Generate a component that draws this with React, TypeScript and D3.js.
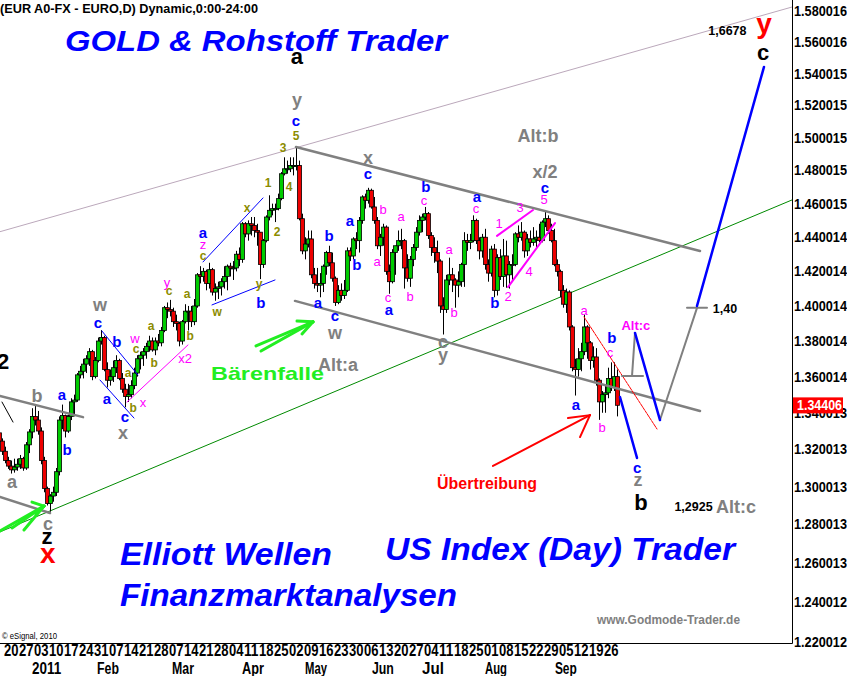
import React from "react";
import * as d3 from "d3";

// ---------- DATA ----------
// EUR/USD daily candles [open, high, low, close], first row = Thu 16 Dec 2010 (day -2), Mon 20 Dec 2010 = day 0
const firstDay = -2;
const eurusdOHLC: [number, number, number, number][] = [
  [1.3290, 1.3310, 1.3220, 1.3245], [1.3245, 1.3260, 1.3170, 1.3190],
  // Dec 20
  [1.3190, 1.3215, 1.3125, 1.3140], [1.3140, 1.3160, 1.3095, 1.3110], [1.3110, 1.3140, 1.3070, 1.3090], [1.3090, 1.3150, 1.3075, 1.3105], [1.3105, 1.3150, 1.3085, 1.3120],
  // Dec 27
  [1.3120, 1.3170, 1.3095, 1.3150], [1.3150, 1.3160, 1.3085, 1.3100], [1.3100, 1.3240, 1.3090, 1.3225], [1.3225, 1.3310, 1.3180, 1.3295], [1.3295, 1.3425, 1.3260, 1.3380],
  // Jan 3
  [1.3380, 1.3445, 1.3330, 1.3360], [1.3360, 1.3410, 1.3280, 1.3300], [1.3300, 1.3320, 1.3120, 1.3140], [1.3140, 1.3160, 1.2970, 1.2990], [1.2990, 1.3000, 1.2900, 1.2910],
  // Jan 10
  [1.2910, 1.2960, 1.2867, 1.2950], [1.2950, 1.3000, 1.2920, 1.2970], [1.2970, 1.3100, 1.2950, 1.3080], [1.3080, 1.3380, 1.3060, 1.3360], [1.3360, 1.3445, 1.3310, 1.3385],
  // Jan 17
  [1.3385, 1.3390, 1.3265, 1.3300], [1.3300, 1.3390, 1.3290, 1.3380], [1.3380, 1.3480, 1.3360, 1.3460], [1.3460, 1.3500, 1.3380, 1.3470], [1.3470, 1.3620, 1.3460, 1.3610],
  // Jan 24
  [1.3610, 1.3660, 1.3590, 1.3630], [1.3630, 1.3700, 1.3590, 1.3670], [1.3670, 1.3720, 1.3620, 1.3700], [1.3700, 1.3760, 1.3660, 1.3740], [1.3740, 1.3750, 1.3580, 1.3600],
  // Jan 31
  [1.3600, 1.3710, 1.3590, 1.3690], [1.3690, 1.3820, 1.3680, 1.3800], [1.3800, 1.3862, 1.3780, 1.3820], [1.3820, 1.3830, 1.3630, 1.3640], [1.3640, 1.3680, 1.3540, 1.3580],
  // Feb 7
  [1.3580, 1.3640, 1.3550, 1.3600], [1.3600, 1.3690, 1.3570, 1.3650], [1.3650, 1.3720, 1.3620, 1.3690], [1.3690, 1.3700, 1.3580, 1.3590], [1.3590, 1.3620, 1.3510, 1.3530],
  // Feb 14
  [1.3530, 1.3560, 1.3430, 1.3490], [1.3490, 1.3560, 1.3460, 1.3500], [1.3500, 1.3580, 1.3480, 1.3550], [1.3550, 1.3650, 1.3530, 1.3620], [1.3620, 1.3720, 1.3600, 1.3700],
  // Feb 21
  [1.3700, 1.3740, 1.3640, 1.3720], [1.3720, 1.3760, 1.3660, 1.3740], [1.3740, 1.3790, 1.3700, 1.3770], [1.3770, 1.3830, 1.3740, 1.3800], [1.3800, 1.3820, 1.3740, 1.3750],
  // Feb 28
  [1.3750, 1.3820, 1.3720, 1.3800], [1.3800, 1.3840, 1.3770, 1.3790], [1.3790, 1.3880, 1.3770, 1.3860], [1.3860, 1.4000, 1.3850, 1.3990], [1.3990, 1.4020, 1.3930, 1.3980],
  // Mar 7
  [1.3980, 1.4035, 1.3940, 1.3970], [1.3970, 1.3990, 1.3880, 1.3910], [1.3910, 1.3950, 1.3860, 1.3900], [1.3900, 1.3910, 1.3770, 1.3800], [1.3800, 1.3920, 1.3780, 1.3910],
  // Mar 14
  [1.3910, 1.4010, 1.3900, 1.3970], [1.3970, 1.4000, 1.3860, 1.3970], [1.3970, 1.4000, 1.3880, 1.3910], [1.3910, 1.4040, 1.3890, 1.4000], [1.4000, 1.4190, 1.3990, 1.4180],
  // Mar 21
  [1.4180, 1.4230, 1.4130, 1.4170], [1.4170, 1.4220, 1.4140, 1.4200], [1.4200, 1.4210, 1.4090, 1.4130], [1.4130, 1.4250, 1.4100, 1.4210], [1.4210, 1.4220, 1.4060, 1.4080],
  // Mar 28
  [1.4080, 1.4130, 1.4030, 1.4100], [1.4100, 1.4140, 1.4040, 1.4110], [1.4110, 1.4160, 1.4060, 1.4140], [1.4140, 1.4230, 1.4100, 1.4170], [1.4170, 1.4240, 1.4090, 1.4230],
  // Apr 4
  [1.4230, 1.4250, 1.4170, 1.4220], [1.4220, 1.4260, 1.4150, 1.4220], [1.4220, 1.4320, 1.4200, 1.4300], [1.4300, 1.4340, 1.4230, 1.4270], [1.4270, 1.4490, 1.4250, 1.4480],
  // Apr 11
  [1.4480, 1.4490, 1.4400, 1.4420], [1.4420, 1.4500, 1.4380, 1.4480], [1.4480, 1.4520, 1.4410, 1.4470], [1.4470, 1.4520, 1.4400, 1.4440], [1.4440, 1.4480, 1.4350, 1.4430],
  // Apr 18
  [1.4430, 1.4430, 1.4155, 1.4240], [1.4240, 1.4390, 1.4220, 1.4380], [1.4380, 1.4530, 1.4370, 1.4520], [1.4520, 1.4650, 1.4500, 1.4560], [1.4560, 1.4600, 1.4530, 1.4570],
  // Apr 25
  [1.4570, 1.4600, 1.4490, 1.4570], [1.4570, 1.4660, 1.4560, 1.4630], [1.4630, 1.4790, 1.4620, 1.4780], [1.4780, 1.4880, 1.4770, 1.4810], [1.4810, 1.4860, 1.4780, 1.4810],
  // May 2
  [1.4810, 1.4880, 1.4790, 1.4830], [1.4830, 1.4880, 1.4770, 1.4830], [1.4830, 1.4940, 1.4800, 1.4830], [1.4830, 1.4860, 1.4500, 1.4510], [1.4510, 1.4540, 1.4300, 1.4320],
  // May 9
  [1.4320, 1.4400, 1.4270, 1.4360], [1.4360, 1.4440, 1.4340, 1.4390], [1.4390, 1.4440, 1.4160, 1.4180], [1.4180, 1.4220, 1.4100, 1.4130], [1.4130, 1.4220, 1.4080, 1.4120],
  // May 16
  [1.4120, 1.4190, 1.4050, 1.4130], [1.4130, 1.4240, 1.4080, 1.4230], [1.4230, 1.4320, 1.4180, 1.4310], [1.4310, 1.4350, 1.4230, 1.4250], [1.4250, 1.4310, 1.4140, 1.4160],
  // May 23
  [1.4160, 1.4170, 1.4000, 1.4020], [1.4020, 1.4120, 1.4010, 1.4090], [1.4090, 1.4130, 1.4030, 1.4060], [1.4060, 1.4150, 1.4040, 1.4090], [1.4090, 1.4340, 1.4080, 1.4320],
  // May 30
  [1.4320, 1.4340, 1.4260, 1.4290], [1.4290, 1.4400, 1.4270, 1.4390], [1.4390, 1.4430, 1.4330, 1.4380], [1.4380, 1.4520, 1.4310, 1.4500], [1.4500, 1.4650, 1.4480, 1.4640],
  // Jun 6
  [1.4640, 1.4660, 1.4570, 1.4620], [1.4620, 1.4695, 1.4600, 1.4680], [1.4680, 1.4690, 1.4570, 1.4580], [1.4580, 1.4640, 1.4480, 1.4500], [1.4500, 1.4520, 1.4330, 1.4350],
  // Jun 13
  [1.4350, 1.4420, 1.4290, 1.4400], [1.4400, 1.4480, 1.4350, 1.4460], [1.4460, 1.4470, 1.4180, 1.4200], [1.4200, 1.4240, 1.4070, 1.4140], [1.4140, 1.4330, 1.4130, 1.4310],
  // Jun 20
  [1.4310, 1.4350, 1.4180, 1.4350], [1.4350, 1.4440, 1.4320, 1.4380], [1.4380, 1.4450, 1.4330, 1.4380], [1.4380, 1.4390, 1.4100, 1.4220], [1.4220, 1.4300, 1.4140, 1.4160],
  // Jun 27
  [1.4160, 1.4290, 1.4110, 1.4270], [1.4270, 1.4360, 1.4230, 1.4340], [1.4340, 1.4460, 1.4320, 1.4430], [1.4430, 1.4530, 1.4410, 1.4500], [1.4500, 1.4540, 1.4430, 1.4520],
  // Jul 4
  [1.4520, 1.4580, 1.4500, 1.4540], [1.4540, 1.4550, 1.4390, 1.4410], [1.4410, 1.4430, 1.4290, 1.4340], [1.4340, 1.4400, 1.4250, 1.4310], [1.4310, 1.4380, 1.4190, 1.4260],
  // Jul 11
  [1.4260, 1.4270, 1.3960, 1.4000], [1.4000, 1.4050, 1.3837, 1.3980], [1.3980, 1.4180, 1.3960, 1.4150], [1.4150, 1.4280, 1.4120, 1.4180], [1.4180, 1.4220, 1.4080, 1.4150],
  // Jul 18
  [1.4150, 1.4160, 1.3990, 1.4120], [1.4120, 1.4200, 1.4050, 1.4140], [1.4140, 1.4250, 1.4110, 1.4240], [1.4240, 1.4430, 1.4110, 1.4380], [1.4380, 1.4420, 1.4320, 1.4370],
  // Jul 25
  [1.4370, 1.4420, 1.4330, 1.4380], [1.4380, 1.4530, 1.4370, 1.4500], [1.4500, 1.4510, 1.4360, 1.4380], [1.4380, 1.4400, 1.4270, 1.4320], [1.4320, 1.4420, 1.4280, 1.4400],
  // Aug 1
  [1.4400, 1.4450, 1.4210, 1.4240], [1.4240, 1.4270, 1.4140, 1.4190], [1.4190, 1.4350, 1.4170, 1.4330], [1.4330, 1.4360, 1.4050, 1.4090], [1.4090, 1.4300, 1.4060, 1.4280],
  // Aug 8
  [1.4280, 1.4330, 1.4150, 1.4170], [1.4170, 1.4390, 1.4110, 1.4290], [1.4290, 1.4380, 1.4105, 1.4180], [1.4180, 1.4260, 1.4100, 1.4240], [1.4240, 1.4300, 1.4150, 1.4240],
  // Aug 15
  [1.4240, 1.4430, 1.4230, 1.4420], [1.4420, 1.4470, 1.4370, 1.4400], [1.4400, 1.4490, 1.4380, 1.4430], [1.4430, 1.4440, 1.4280, 1.4320], [1.4320, 1.4420, 1.4290, 1.4390],
  // Aug 22
  [1.4390, 1.4440, 1.4340, 1.4370], [1.4370, 1.4460, 1.4350, 1.4390], [1.4390, 1.4440, 1.4330, 1.4400], [1.4400, 1.4480, 1.4370, 1.4380], [1.4380, 1.4500, 1.4370, 1.4490],
  // Aug 29
  [1.4490, 1.4550, 1.4460, 1.4510], [1.4510, 1.4530, 1.4420, 1.4440], [1.4440, 1.4480, 1.4370, 1.4380], [1.4380, 1.4450, 1.4230, 1.4240], [1.4240, 1.4270, 1.4170, 1.4200],
  // Sep 5
  [1.4200, 1.4210, 1.4050, 1.4090], [1.4090, 1.4120, 1.3990, 1.4010], [1.4010, 1.4100, 1.3960, 1.4080], [1.4080, 1.4090, 1.3860, 1.3880], [1.3880, 1.3890, 1.3630, 1.3650],
  // Sep 12
  [1.3650, 1.3700, 1.3495, 1.3640], [1.3640, 1.3760, 1.3600, 1.3700], [1.3700, 1.3790, 1.3630, 1.3740], [1.3740, 1.3950, 1.3720, 1.3880], [1.3880, 1.3890, 1.3700, 1.3790],
  // Sep 19
  [1.3790, 1.3800, 1.3640, 1.3690], [1.3690, 1.3770, 1.3650, 1.3710], [1.3710, 1.3760, 1.3550, 1.3580], [1.3580, 1.3590, 1.3361, 1.3460], [1.3460, 1.3520, 1.3400, 1.3500],
  // Sep 26
  [1.3500, 1.3550, 1.3400, 1.3510], [1.3510, 1.3650, 1.3480, 1.3590], [1.3590, 1.3680, 1.3520, 1.3540], [1.3540, 1.3680, 1.3520, 1.3600], [1.3600, 1.3640, 1.3380, 1.3441],
];
const lastPrice = 1.34406;

// weekly axis labels: label k sits on trading day 5*k (Mondays from 20 Dec 2010)
const weekLabels = ["20","27","03","10","17","24","31","07","14","21","28","07","14","21","28","04","11","18","25","02","09","16","23","30","06","13","20","27","04","11","18","25","01","08","15","22","29","05","12","19","26"];
const monthLabels = [
  { t: "2011", d: 9 }, { t: "Feb", d: 30.7 }, { t: "Mar", d: 55.7 }, { t: "Apr", d: 79 }, { t: "May", d: 100 },
  { t: "Jun", d: 122.3 }, { t: "Jul", d: 139 }, { t: "Aug", d: 160 }, { t: "Sep", d: 183.3 },
];
const yTickLabels = ["1.580016","1.560016","1.540015","1.520015","1.500015","1.480015","1.460015","1.440014","1.420014","1.400014","1.380014","1.360014","1.340013","1.320013","1.300013","1.280013","1.260013","1.240012","1.220012"];

type Lbl = { t: string; d: number; p: number };
const blueLabels: Lbl[] = [
  { t: "c", d: 97, p: 1.5104 }, { t: "a", d: 66, p: 1.4431 }, { t: "b", d: 85.3, p: 1.4018 }, { t: "c", d: 121, p: 1.4779 },
  { t: "c", d: 180, p: 1.4694 }, { t: "b", d: 140.3, p: 1.4700 }, { t: "a", d: 157.3, p: 1.4640 }, { t: "a", d: 115, p: 1.4502 },
  { t: "b", d: 108, p: 1.4413 }, { t: "b", d: 117.3, p: 1.4238 }, { t: "a", d: 128, p: 1.3977 }, { t: "b", d: 163.3, p: 1.4018 },
  { t: "a", d: 104.3, p: 1.4018 }, { t: "c", d: 110, p: 1.3943 }, { t: "c", d: 31, p: 1.3903 }, { t: "b", d: 37.3, p: 1.3795 },
  { t: "a", d: 34, p: 1.3481 }, { t: "c", d: 40, p: 1.3382 }, { t: "a", d: 19, p: 1.3498 }, { t: "b", d: 20.7, p: 1.3197 },
  { t: "a", d: 190.3, p: 1.3443 }, { t: "b", d: 202.3, p: 1.3818 }, { t: "c", d: 210.7, p: 1.3105 },
];
const pinkLabels: Lbl[] = [
  { t: "z", d: 66, p: 1.4360 }, { t: "5", d: 179.7, p: 1.4622 }, { t: "3", d: 171.7, p: 1.4574 }, { t: "1", d: 164.7, p: 1.4484 },
  { t: "4", d: 174.7, p: 1.4202 }, { t: "2", d: 167.7, p: 1.4052 }, { t: "c", d: 139.7, p: 1.4616 }, { t: "c", d: 157, p: 1.4568 },
  { t: "b", d: 126, p: 1.4562 }, { t: "a", d: 132, p: 1.4526 }, { t: "a", d: 124, p: 1.4255 }, { t: "c", d: 127.7, p: 1.4046 },
  { t: "b", d: 135, p: 1.4052 }, { t: "a", d: 148, p: 1.4325 }, { t: "b", d: 149.7, p: 1.3960 }, { t: "w", d: 43.3, p: 1.3812 },
  { t: "x", d: 46, p: 1.3459 }, { t: "x2", d: 60, p: 1.3704 }, { t: "y", d: 54, p: 1.4138 }, { t: "b", d: 199, p: 1.3317 },
  { t: "a", d: 193, p: 1.3972 }, { t: "c", d: 201.7, p: 1.3738 },
];
const oliveLabels: Lbl[] = [
  { t: "5", d: 97, p: 1.5011 }, { t: "3", d: 92.7, p: 1.4937 }, { t: "1", d: 87.7, p: 1.4724 }, { t: "4", d: 94.7, p: 1.4700 },
  { t: "2", d: 90.7, p: 1.4431 }, { t: "x", d: 80.7, p: 1.4574 }, { t: "c", d: 66, p: 1.4290 }, { t: "a", d: 60.7, p: 1.4069 },
  { t: "w", d: 70.7, p: 1.3966 }, { t: "y", d: 84.7, p: 1.4127 }, { t: "c", d: 43.7, p: 1.3755 }, { t: "a", d: 41, p: 1.3620 },
  { t: "b", d: 42.7, p: 1.3426 }, { t: "a", d: 48.7, p: 1.3886 }, { t: "b", d: 49.7, p: 1.3676 }, { t: "c", d: 54.7, p: 1.4086 },
  { t: "b", d: 61.7, p: 1.3829 },
];
const grayLabels: Lbl[] = [
  { t: "y", d: 97.3, p: 1.5234 }, { t: "x", d: 121, p: 1.4876 }, { t: "w", d: 110, p: 1.3846 }, { t: "c", d: 146, p: 1.3795 },
  { t: "y", d: 146, p: 1.3721 }, { t: "w", d: 31.7, p: 1.4006 }, { t: "x", d: 39.3, p: 1.3290 }, { t: "b", d: 10.7, p: 1.3492 },
  { t: "a", d: 2.3, p: 1.3025 }, { t: "c", d: 14.3, p: 1.2803 }, { t: "z", d: 211, p: 1.3036 },
  { t: "Alt:b", d: 177.7, p: 1.5011 }, { t: "x/2", d: 180, p: 1.4791 }, { t: "Alt:a", d: 111, p: 1.3665 }, { t: "Alt:c", d: 243.7, p: 1.2892 },
];
const blackLabels: Lbl[] = [
  { t: "a", d: 97.3, p: 1.5505 }, { t: "2", d: -0.67, p: 1.3682 }, { t: "z", d: 14, p: 1.2735 },
  { t: "c", d: 252.7, p: 1.5531 }, { t: "b", d: 212, p: 1.2918 },
];
const redLabels: Lbl[] = [{ t: "x", d: 14.3, p: 1.2649 }, { t: "y", d: 253, p: 1.5717 }];
const priceNotes: Lbl[] = [{ t: "1,6678", d: 240.8, p: 1.5671 }, { t: "1,40", d: 240, p: 1.3983 }, { t: "1,2925", d: 229.5, p: 1.2892 }];
const pinkNotes: Lbl[] = [{ t: "Alt:c", d: 210.3, p: 1.3891 }];
const greenNotes: Lbl[] = [{ t: "Bärenfalle", d: 87.5, p: 1.3620 }];
const redNotes: Lbl[] = [{ t: "Übertreibung", d: 160.7, p: 1.3015 }];

type Seg = [number, number][];
const thistleLines: Seg[] = [[[-1.667, 1.4433], [262.33, 1.5826]]];
const greenTrend: Seg[] = [[[-1.667, 1.2761], [262.33, 1.4622]]];
const grayChannels: Seg[] = [
  [[97, 1.4943], [231.67, 1.4319]], [[96.67, 1.4029], [231.67, 1.3410]],
  [[-1.667, 1.3492], [26, 1.3376]], [[-1.667, 1.2945], [15, 1.2860]],
];
const blueThin: Seg[] = [
  [[66, 1.4255], [86, 1.4634]], [[69, 1.4006], [90, 1.4150]],
  [[32.3, 1.3857], [44.3, 1.3609]], [[31.67, 1.3581], [43, 1.3371]],
];
const pinkThin: Seg[] = [[[40.67, 1.3459], [61, 1.3778]]];
const pinkThick: Seg[] = [[[164, 1.4408], [176, 1.4562]], [[167.67, 1.4109], [183.33, 1.4484]]];
const redThin: Seg[] = [[[193, 1.3937], [217.33, 1.3311]]];
const blackThin: Seg[] = [[[-1, 1.3459], [2.67, 1.3349]]];
const blueProjection: Seg[] = [
  [[205, 1.3487], [210.67, 1.3154]], [[210, 1.3846], [218.33, 1.3360]], [[230.67, 1.4000], [253, 1.5442]],
];
const grayProjection: Seg[] = [
  [[205.67, 1.3603], [212.67, 1.3603]], [[209, 1.3603], [210, 1.3846]],
  [[218.33, 1.3360], [230.67, 1.3989]], [[227.33, 1.3989], [234, 1.3989]],
];
const greenArrowStrokes: Seg[] = [
  [[83.67, 1.3772], [102.67, 1.3909]], [[85.33, 1.3744], [102.67, 1.3909]],
  [[97.33, 1.3914], [102.67, 1.3909]], [[99, 1.3840], [102.67, 1.3909]],
  [[-1.67, 1.2766], [13, 1.2897]], [[2.33, 1.2782], [13, 1.2897]], [[6.33, 1.2771], [13, 1.2897]],
  [[9, 1.2918], [13, 1.2897]], [[10.33, 1.2855], [13, 1.2897]],
];
const redArrowStrokes: Seg[] = [
  [[162.67, 1.3111], [195, 1.3387]], [[191.67, 1.3267], [195, 1.3387]], [[187.67, 1.3371], [195, 1.3387]],
];

// ---------- CHART ----------
const FONT = "'Liberation Sans', Arial, Helvetica, sans-serif";

export default function App() {
  const W = 847, H = 676, plotR = 792, plotB = 643;
  const x = d3.scaleLinear().domain([0, 204]).range([5, 617]);
  const y = d3.scaleLog().domain([1.220012, 1.580016]).range([641.5, 11]);
  const line = d3.line<[number, number]>().x((d) => x(d[0])).y((d) => y(d[1]));

  const segs = (list: Seg[], stroke: string, width: number, key: string, dash?: string) =>
    list.map((s, i) => (
      <path key={key + i} d={line(s) || ""} stroke={stroke} strokeWidth={width} fill="none" strokeDasharray={dash} strokeLinecap="round" />
    ));
  const labels = (list: Lbl[], fill: string, size: number, bold: boolean, key: string) =>
    list.map((l, i) => (
      <text key={key + i} x={x(l.d)} y={y(l.p)} fill={fill} fontSize={size} fontWeight={bold ? "bold" : "normal"} textAnchor="middle" dominantBaseline="central">
        {l.t}
      </text>
    ));

  return (
    <svg width={W} height={H} style={{ position: "absolute", left: 0, top: 0 }} fontFamily={FONT}>
      <rect width={W} height={H} fill="#ffffff" />
      <defs>
        <clipPath id="plotClip"><rect x={0} y={0} width={plotR} height={plotB} /></clipPath>
      </defs>
      <g clipPath="url(#plotClip)">
        {segs(thistleLines, "#bba8bb", 1, "th")}
        {segs(greenTrend, "#008a00", 1, "gt")}
        {eurusdOHLC.map(([o, h, l, c], i) => {
          const cx = Math.round(x(i + firstDay)) + 0.5;
          const up = c >= o;
          const top = y(Math.max(o, c));
          const bot = y(Math.min(o, c));
          return (
            <g key={"k" + i}>
              <line x1={cx} x2={cx} y1={y(h)} y2={y(l)} stroke="#000" strokeWidth={1} />
              <rect x={cx - 2} y={top} width={4} height={Math.max(1, bot - top)} fill={up ? "#00cc00" : "#ee0000"} stroke="#000" strokeWidth={0.8} />
            </g>
          );
        })}
        {segs(grayChannels, "#808080", 2.5, "gc")}
        {segs(blueThin, "#0000ff", 1, "bt")}
        {segs(pinkThin, "#ff00ff", 1, "pt")}
        {segs(pinkThick, "#ff00ff", 2, "pk")}
        {segs(redThin, "#ff0000", 1, "rt", "3 1")}
        {segs(blackThin, "#000000", 1, "bk")}
        {segs(grayProjection, "#808080", 2, "gp")}
        {segs(blueProjection, "#0000ff", 2.5, "bp")}
        {segs(greenArrowStrokes, "#22ee22", 3, "ga")}
        {segs(redArrowStrokes, "#ff0000", 2, "ra")}

        {labels(blueLabels, "#0000ff", 15, true, "bl")}
        {labels(pinkLabels, "#ff00ff", 13, false, "pl")}
        {labels(oliveLabels, "#8c8c00", 12, true, "ol")}
        {labels(grayLabels, "#808080", 18, true, "gl")}
        {labels(blackLabels, "#000000", 22, true, "kl")}
        {labels(redLabels, "#ff0000", 28, true, "rl")}
        {labels(priceNotes, "#000000", 12.5, true, "pn")}
        {labels(pinkNotes, "#ff00ff", 13, true, "pkn")}
        {greenNotes.map((l, i) => (
          <text key={"gn" + i} x={x(l.d)} y={y(l.p)} fill="#22ee22" fontSize={19} fontWeight="bold" textAnchor="middle" dominantBaseline="central" textLength={113} lengthAdjust="spacingAndGlyphs">{l.t}</text>
        ))}
        {redNotes.map((l, i) => (
          <text key={"rn" + i} x={x(l.d)} y={y(l.p)} fill="#ff0000" fontSize={16} fontWeight="bold" textAnchor="middle" dominantBaseline="central" textLength={100} lengthAdjust="spacingAndGlyphs">{l.t}</text>
        ))}
      </g>

      {/* titles */}
      <text x={0} y={12.5} fontSize={12} fontWeight="bold" fill="#000" textLength={258} lengthAdjust="spacingAndGlyphs">(EUR A0-FX - EURO,D) Dynamic,0:00-24:00</text>
      <text x={65} y={51} fontSize={29} fontWeight="bold" fontStyle="italic" fill="#0000ff" textLength={382} lengthAdjust="spacingAndGlyphs">GOLD &amp; Rohstoff Trader</text>
      <text x={120} y={565} fontSize={32} fontWeight="bold" fontStyle="italic" fill="#0000ff" textLength={212} lengthAdjust="spacingAndGlyphs">Elliott Wellen</text>
      <text x={385} y={560} fontSize={32} fontWeight="bold" fontStyle="italic" fill="#0000ff" textLength={350} lengthAdjust="spacingAndGlyphs">US Index (Day) Trader</text>
      <text x={120} y={606} fontSize={32} fontWeight="bold" fontStyle="italic" fill="#0000ff" textLength={337} lengthAdjust="spacingAndGlyphs">Finanzmarktanalysen</text>
      <text x={597} y={624} fontSize={12} fontWeight="bold" fill="#808080" textLength={143} lengthAdjust="spacingAndGlyphs">www.Godmode-Trader.de</text>
      <text x={2} y={638.5} fontSize={9} fill="#000" textLength={55} lengthAdjust="spacingAndGlyphs">© eSignal, 2010</text>

      {/* axes */}
      <line x1={plotR + 0.5} x2={plotR + 0.5} y1={0} y2={plotB + 0.5} stroke="#000" strokeWidth={1} />
      <line x1={0} x2={plotR + 0.5} y1={plotB + 0.5} y2={plotB + 0.5} stroke="#000" strokeWidth={1} />
      {yTickLabels.map((t) => (
        <text key={t} x={794} y={y(+t)} fontSize={14} fontWeight="bold" fill="#000" dominantBaseline="central" textLength={53} lengthAdjust="spacingAndGlyphs">{t}</text>
      ))}
      <rect x={793} y={y(lastPrice) - 8} width={50} height={16} fill="#ff0000" />
      <text x={797} y={y(lastPrice)} fontSize={14} fontWeight="bold" fill="#ffffff" dominantBaseline="central" textLength={45} lengthAdjust="spacingAndGlyphs">{lastPrice.toFixed(5)}</text>

      {weekLabels.map((t, k) => (
        <text key={"w" + k} x={x(5 * k) - 1} y={656} fontSize={16} fontWeight="bold" fill="#000" textLength={14.5} lengthAdjust="spacingAndGlyphs">{t}</text>
      ))}
      {monthLabels.map((m) => (
        <text key={m.t} x={x(m.d)} y={674} fontSize={16} fontWeight="bold" fill="#000" textLength={m.t.length * 7.3} lengthAdjust="spacingAndGlyphs">{m.t}</text>
      ))}
    </svg>
  );
}
